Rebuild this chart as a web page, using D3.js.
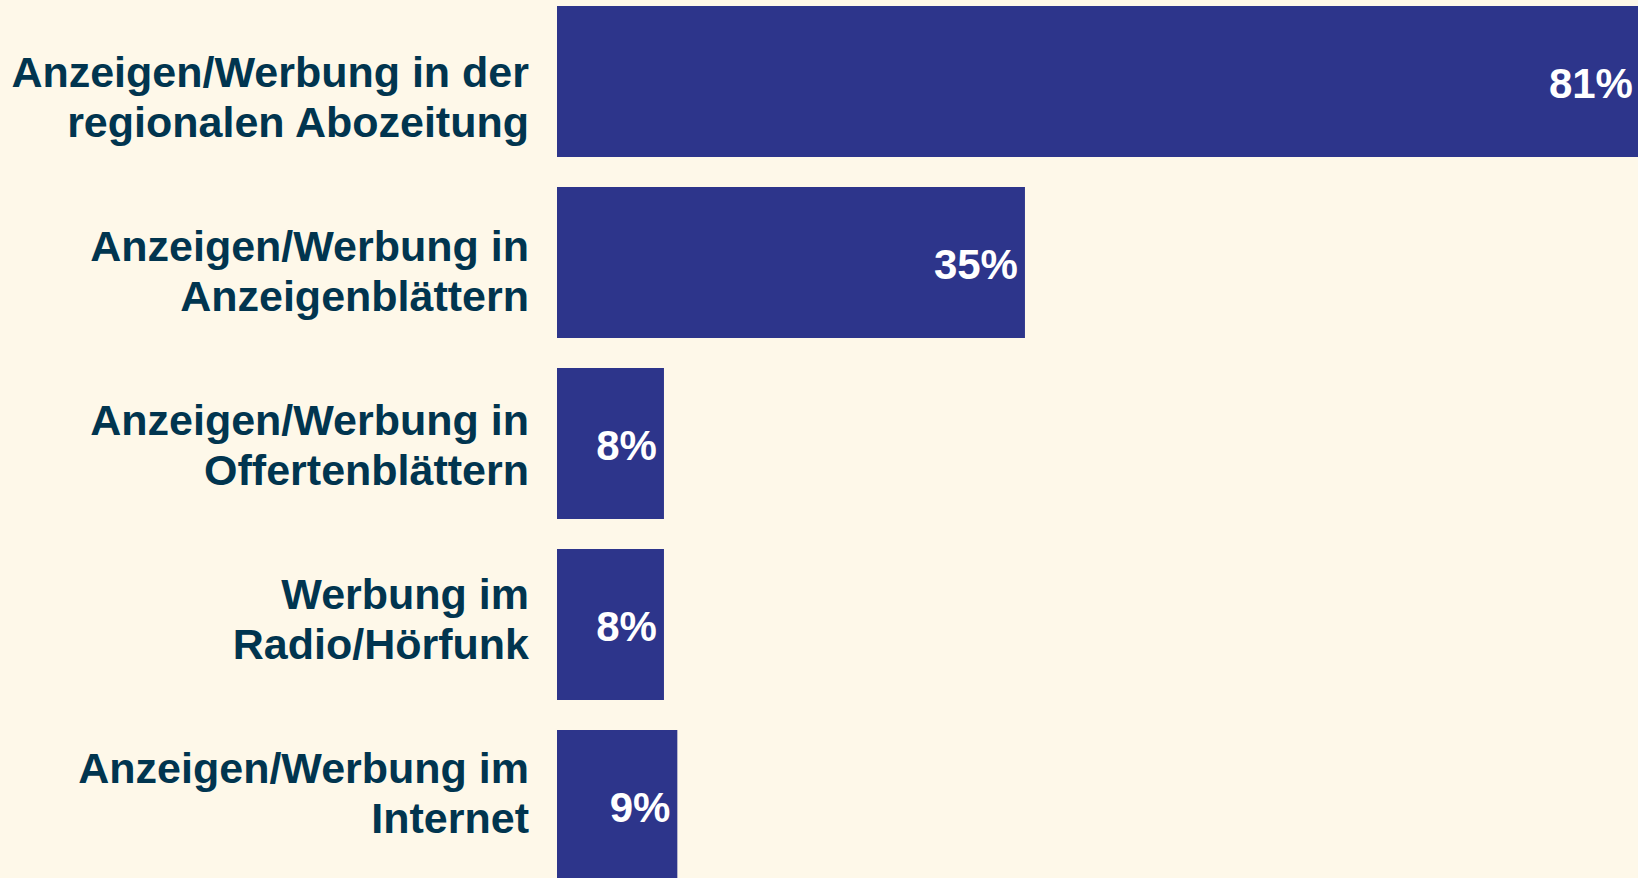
<!DOCTYPE html>
<html lang="de">
<head>
    <meta charset="UTF-8">
    <title>Werbung</title>
    <script src="https://d3js.org/d3.v7.min.js"></script>
</head>
<style>
    html,body{
        padding:0px;
        margin:0px;
        width:1638px;
        height:878px;
        overflow:hidden;
        background:#FEF8E9;
    }
</style>
<body>
<svg id="chart" width="1638" height="878"></svg>
<script>
    // Daten
    const labelLines = [
        ["Anzeigen/Werbung in der", "regionalen Abozeitung"],
        ["Anzeigen/Werbung in", "Anzeigenblättern"],
        ["Anzeigen/Werbung in", "Offertenblättern"],
        ["Werbung im", "Radio/Hörfunk"],
        ["Anzeigen/Werbung im", "Internet"]
    ];
    const categories = labelLines.map(d => d.join(" "));
    const values = [81, 35, 8, 8, 9];

    const barColor = "#2D358B";
    const textColor = "#01354F";
    const font = "'Liberation Sans', Arial, sans-serif";

    const svg = d3.select("#chart");

    const x = d3.scaleLinear().domain([0, 100]).range([557, 1894]);
    const y = d3.scaleBand().domain(categories).range([-9, 896])
        .paddingInner(30 / 181).paddingOuter(15 / 181);
    // Beschriftung sitzt auf etwas engerem Raster als die Balken
    const yLabel = d3.scalePoint().domain(categories).range([96.5, 793]);

    const rows = categories.map((c, i) => ({cat: c, lines: labelLines[i], v: values[i]}));

    svg.selectAll("rect.bar").data(rows).enter()
        .append("rect")
        .attr("class", "bar")
        .attr("x", x(0))
        .attr("y", d => y(d.cat))
        .attr("width", d => x(d.v) - x(0))
        .attr("height", y.bandwidth())
        .attr("fill", barColor);

    svg.selectAll("text.val").data(rows).enter()
        .append("text")
        .attr("class", "val")
        .attr("x", d => x(d.v) - 7)
        .attr("y", d => y(d.cat) + y.bandwidth() / 2 + 16)
        .attr("text-anchor", "end")
        .attr("font-family", font)
        .attr("font-weight", "bold")
        .attr("font-size", "42px")
        .attr("fill", "#FFFFFF")
        .text(d => d.v + "%");

    const lab = svg.selectAll("text.lab").data(rows).enter()
        .append("text")
        .attr("class", "lab")
        .attr("text-anchor", "end")
        .attr("font-family", font)
        .attr("font-weight", "bold")
        .attr("font-size", "43px")
        .attr("fill", textColor);

    lab.selectAll("tspan").data(d => d.lines.map((t, j) => ({t: t, j: j, cat: d.cat}))).enter()
        .append("tspan")
        .attr("x", 529)
        .attr("y", d => yLabel(d.cat) - 10 + d.j * 50)
        .text(d => d.t);
</script>
</body>
</html>
